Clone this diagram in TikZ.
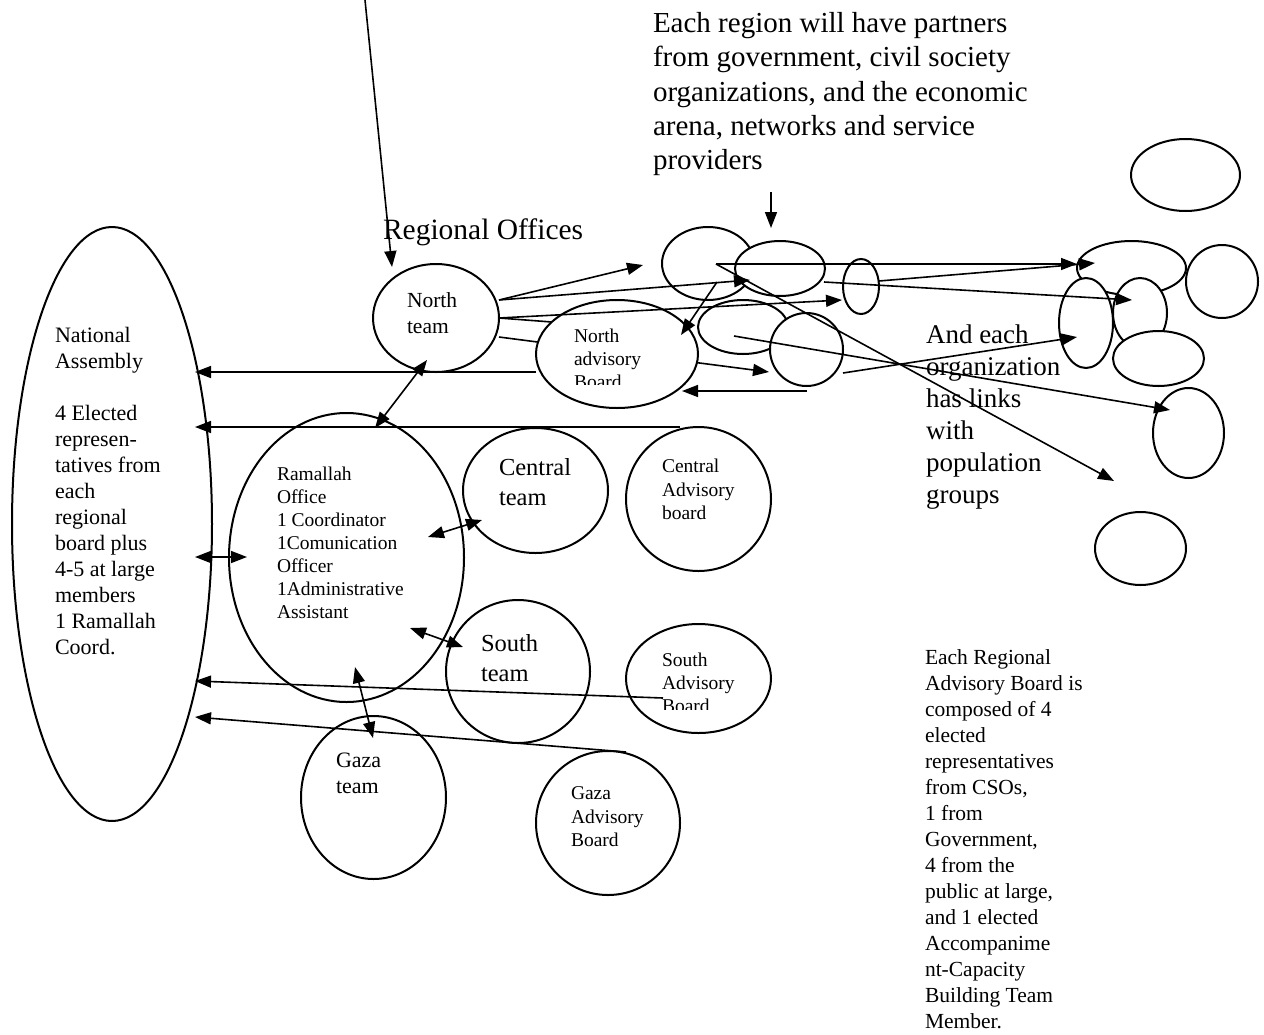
\documentclass[tikz,border=0pt]{standalone}
\usepackage{fontspec}
\setmainfont{Liberation Serif}
\usetikzlibrary{shapes.geometric,arrows.meta}
\newcommand{\myfs}[2]{\fontsize{#1}{#2}\selectfont}
\newcommand{\ellnode}[5]{\node[ell, minimum width=#4pt, minimum height=#5pt] (#1) at (#2,#3) {};}
\tikzset{
  ell/.style={ellipse, draw, line width=2pt, fill=white, inner sep=0pt, outer sep=0pt},
  conn/.style={line width=1.6pt},
  arr/.style={conn, -{Triangle[length=16pt,width=12pt]}},
  darr/.style={conn, {Triangle[length=16pt,width=12pt]}-{Triangle[length=16pt,width=12pt]}},
  txt/.style={anchor=north west, inner sep=0pt, outer sep=0pt, align=left},
}
\begin{document}
\begin{tikzpicture}[x=1pt,y=-1pt]
\useasboundingbox (0,0) rectangle (1264,1034);

% ---- named connector end points ----
\coordinate (ptop) at (365,0);
\coordinate (pnt) at (392,267);
\coordinate (pprov) at (771,192);
\coordinate (pprovt) at (771,228);
\coordinate (n1) at (499,300);
\coordinate (n2) at (499,318);
\coordinate (n3) at (499,337);
\coordinate (a1) at (643,265);
\coordinate (a2) at (750,280);
\coordinate (a3) at (842,300);
\coordinate (a3b) at (565,323);
\coordinate (a4) at (769,372);
\coordinate (e1c) at (716,264);
\coordinate (e1d) at (717,282);
\coordinate (r1a) at (1077,264);
\coordinate (r1b) at (1095,263);
\coordinate (pgroup) at (1114,481);
\coordinate (nabin) at (681,335);
\coordinate (e5b) at (807,391);
\coordinate (nabr) at (682,391);
\coordinate (e4r) at (879,281);
\coordinate (e2r) at (824,282);
\coordinate (r4a) at (1132,300);
\coordinate (e3c) at (734,336);
\coordinate (r6a) at (1170,410);
\coordinate (e5r) at (843,373);
\coordinate (r3a) at (1077,337);
\coordinate (nabl) at (536,372);
\coordinate (na1) at (195,372);
\coordinate (cabt) at (680,427);
\coordinate (na2) at (195,427);
\coordinate (sabc) at (663,698);
\coordinate (na3) at (195,681);
\coordinate (gabt) at (626,752);
\coordinate (na4) at (195,717);
\coordinate (ntb) at (427,360);
\coordinate (ramt) at (375,428);
\coordinate (nar) at (195,557);
\coordinate (raml) at (247,557);
\coordinate (ramc) at (428,537);
\coordinate (ctl) at (482,520);
\coordinate (rams) at (410,628);
\coordinate (stl) at (463,647);
\coordinate (ramb) at (355,667);
\coordinate (gtt) at (373,738);

% ---- connectors hidden under the North advisory Board ----
\draw[conn] (n2) -- (a3b);
\draw[arr] (n3) -- (a4);

% ---- ellipses ----
\ellnode{na}{112}{524}{200}{594}
\ellnode{ram}{346.5}{557.5}{235}{289}
\ellnode{nt}{436}{318}{126}{108}
\ellnode{nab}{617}{354}{162}{108}
\ellnode{ct}{535.5}{490.5}{145}{125}
\ellnode{st}{518}{671.5}{144}{143}
\ellnode{gt}{373.5}{797.5}{145}{163}
\ellnode{cab}{698.5}{499}{145}{144}
\ellnode{sab}{698.5}{678.5}{145}{109}
\ellnode{gab}{608}{823}{144}{144}
\ellnode{e1}{708}{263.5}{92}{73}
\ellnode{e2}{780}{268.5}{90}{55}
\ellnode{e3}{743}{327}{90}{54}
\ellnode{e5}{806.5}{349.5}{73}{73}
\ellnode{e4}{861}{286.5}{36}{55}
\ellnode{r1}{1131.5}{268}{109}{54}
\ellnode{r3}{1086}{323}{54}{90}
\ellnode{r4}{1140}{313}{54}{70}
\ellnode{r5}{1158.5}{358.5}{91}{55}
\ellnode{r2}{1222}{281.5}{72}{73}
\ellnode{r6}{1188.5}{433}{71}{90}
\ellnode{r7}{1140.5}{548.5}{91}{73}
\ellnode{r0}{1185.5}{175}{109}{72}

% ---- connectors ----
\draw[arr] (ptop) -- (pnt);
\draw[arr] (pprov) -- (pprovt);
\draw[arr] (n1) -- (a1);
\draw[arr] (n1) -- (a2);
\draw[arr] (n2) -- (a3);
\draw[arr] (e1c) -- (r1a);
\draw[arr] (e1c) -- (pgroup);
\draw[arr] (e1d) -- (nabin);
\draw[arr] (e5b) -- (nabr);
\draw[arr] (e4r) -- (r1b);
\draw[arr] (e2r) -- (r4a);
\draw[arr] (e3c) -- (r6a);
\draw[arr] (e5r) -- (r3a);
\draw[arr] (nabl) -- (na1);
\draw[arr] (cabt) -- (na2);
\draw[arr] (sabc) -- (na3);
\draw[arr] (gabt) -- (na4);
\draw[darr] (ntb) -- (ramt);
\draw[darr] (nar) -- (raml);
\draw[darr] (ramc) -- (ctl);
\draw[darr] (rams) -- (stl);
\draw[darr] (ramb) -- (gtt);

% ---- texts ----
\node[txt, font=\myfs{29}{34.3}] (tregion) at (653,12.5) {Each region will have partners\\from government, civil society\\organizations, and the economic\\arena, networks and service\\providers};
\node[txt, font=\myfs{29.5}{35}] (tregoff) at (383,218.5) {Regional Offices};
\node[txt, font=\myfs{22}{26}] (tna) at (55,327.5) {National\\Assembly\\[26pt]4 Elected\\represen-\\tatives from\\each\\regional\\board plus\\4-5 at large\\members\\1 Ramallah\\Coord.};
\node[txt, font=\myfs{19.5}{23}] (tram) at (277,467) {Ramallah\\Office\\1 Coordinator\\1Comunication\\Officer\\1Administrative\\Assistant};
\node[txt, font=\myfs{21.5}{26}] (tnt) at (407,293) {North\\team};
\begin{scope}
\clip (560,320) rectangle (700,384);
\node[txt, font=\myfs{19.5}{23}] (tnab) at (574,328.5) {North\\advisory\\Board};
\end{scope}
\node[txt, font=\myfs{24.5}{30}] (tct) at (499,458) {Central\\team};
\node[txt, font=\myfs{24.5}{30}] (tst) at (481,634) {South\\team};
\node[txt, font=\myfs{22}{26}] (tgt) at (336,752.5) {Gaza\\team};
\node[txt, font=\myfs{19.5}{23.5}] (tcab) at (662,459) {Central\\Advisory\\board};
\begin{scope}
\clip (650,640) rectangle (760,709);
\node[txt, font=\myfs{19.5}{23}] (tsab) at (662,653) {South\\Advisory\\Board};
\end{scope}
\node[txt, font=\myfs{19.5}{23.5}] (tgab) at (571,787) {Gaza\\Advisory\\Board};
\node[txt, font=\myfs{27}{32}] (teach) at (926,325) {And each\\organization\\has links\\with\\population\\groups};
\node[txt, font=\myfs{21.5}{26}] (tboard) at (925,650) {Each Regional\\Advisory Board is\\composed of 4\\elected\\representatives\\from CSOs,\\1 from\\Government,\\4 from the\\public at large,\\and 1 elected\\Accompanime\\nt-Capacity\\Building Team\\Member.};
\end{tikzpicture}
\end{document}
